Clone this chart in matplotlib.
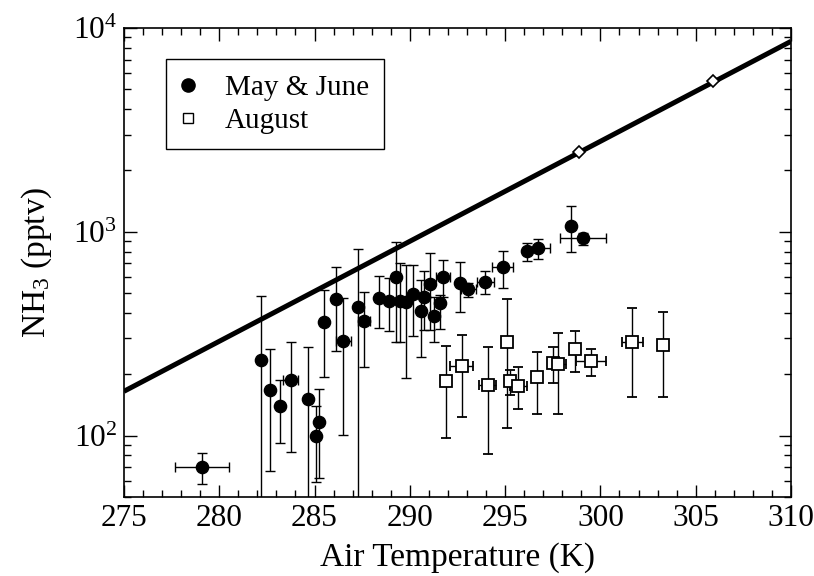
import matplotlib

matplotlib.use("Agg")
import matplotlib.pyplot as plt
import numpy as np
from matplotlib.lines import Line2D
from matplotlib.ticker import LogLocator, MultipleLocator, NullFormatter

plt.rcParams["font.family"] = ["Liberation Serif", "DejaVu Serif"]
plt.rcParams["mathtext.fontset"] = "custom"
plt.rcParams["mathtext.rm"] = "Liberation Serif"
plt.rcParams["mathtext.it"] = "Liberation Serif:italic"

# May & June observations: temperature (K), NH3 (pptv), error bounds, temperature spread
may_t = [279.1, 282.17, 282.66, 283.2, 283.75, 284.64, 285.06, 285.23, 285.5, 286.12,
         286.5, 287.3, 287.6, 288.38, 288.9, 289.27, 289.48, 289.8, 290.18, 290.58,
         290.76, 291.06, 291.28, 291.58, 291.75, 292.65, 293.07, 293.96, 294.87, 296.16,
         296.73, 298.45, 299.07]
may_nh3 = [70, 235, 167, 139, 188, 152, 100, 116, 362, 467,
           290, 429, 364, 472, 457, 602, 459, 451, 494, 410,
           481, 554, 385, 446, 602, 559, 522, 569, 669, 805,
           830, 1068, 929]
may_lo = [58, 30, 67, 92, 83, 30, 59, 62, 194, 260,
          101, 30, 218, 336, 326, 287, 287, 191, 308, 244,
          330, 330, 287, 332, 481, 405, 481, 495, 532, 721,
          733, 793, 861]
may_hi = [82, 486, 265, 188, 287, 273, 140, 169, 518, 670,
          475, 820, 507, 609, 591, 894, 705, 687, 687, 580,
          641, 784, 481, 490, 727, 708, 559, 644, 805, 878,
          922, 1343, 985]
may_terr = [1.4, 0, 0, 0, 0.4, 0, 0, 0, 0, 0,
            0.4, 0, 0.3, 0, 0, 0, 0, 0, 0, 0,
            0, 0, 0, 0, 0.38, 0, 0.4, 0.45, 0.54, 0,
            0.6, 0, 1.2]

# August observations
aug_t = [291.9, 292.72, 294.08, 295.08, 295.25, 295.69, 296.68, 297.49, 297.78, 298.66,
         299.49, 301.67, 303.26]
aug_nh3 = [186, 219, 177, 289, 185, 176, 193, 226, 224, 266,
           232, 289, 278]
aug_lo = [97, 124, 81, 109, 158, 135, 128, 181, 128, 205,
          197, 154, 154]
aug_hi = [275, 312, 273, 467, 211, 218, 258, 273, 318, 326,
          266, 421, 405]
aug_terr = [0, 0.62, 0.44, 0, 0, 0.44, 0, 0, 0.44, 0,
            0.78, 0.55, 0]

# reference curve and its two marked points
curve_t = [275, 310]
curve_nh3 = [165, 8600]
mark_t = [298.9, 305.9]
mark_nh3 = [2470, 5500]


def asym(vals, lo, hi):
    v = np.array(vals, dtype=float)
    return [v - np.array(lo), np.array(hi) - v]


fig = plt.figure(figsize=(8.14, 5.76), dpi=100)
ax = fig.add_axes([0.1523, 0.1372, 0.8194, 0.8142])

ax.plot(curve_t, curve_nh3, color="black", lw=3.6, solid_capstyle="butt", zorder=2)
ax.plot(mark_t, mark_nh3, ls="none", marker="D", ms=6.5, mfc="white", mec="black",
        mew=1.2, zorder=3)

ax.errorbar(may_t, may_nh3, yerr=asym(may_nh3, may_lo, may_hi), xerr=may_terr,
            fmt="o", ms=8.8, mfc="black", mec="black", ecolor="black",
            elinewidth=1.0, capsize=3.5, capthick=1.0, zorder=4)
ax.errorbar(aug_t, aug_nh3, yerr=asym(aug_nh3, aug_lo, aug_hi), xerr=aug_terr,
            fmt="s", ms=8.5, mfc="white", mec="black", mew=1.3, ecolor="black",
            elinewidth=1.0, capsize=3.5, capthick=1.0, zorder=4)

ax.set_yscale("log")
ax.set_xlim(275, 310)
ax.set_ylim(50, 1e4)
ax.xaxis.set_major_locator(MultipleLocator(5))
ax.xaxis.set_minor_locator(MultipleLocator(1))
ax.yaxis.set_major_locator(LogLocator(base=10))
ax.yaxis.set_minor_locator(LogLocator(base=10, subs=np.arange(2, 10)))
ax.yaxis.set_minor_formatter(NullFormatter())

ax.tick_params(which="both", direction="in", top=True, right=True, width=1.0,
               labelsize=22.5, pad=5)
ax.tick_params(which="major", length=9)
ax.tick_params(which="minor", length=5)
for s in ax.spines.values():
    s.set_linewidth(1.2)

ax.set_xlabel("Air Temperature (K)", fontsize=24, labelpad=7)
ax.set_ylabel("NH$_3$ (pptv)", fontsize=24, labelpad=14)

handles = [
    Line2D([], [], ls="none", marker="o", ms=9.5, mfc="black", mec="black"),
    Line2D([], [], ls="none", marker="s", ms=7, mfc="white", mec="black", mew=1.0),
]
leg = ax.legend(handles, ["May & June", "August"], loc="upper left",
                bbox_to_anchor=(0.0625, 0.933), borderaxespad=0, fontsize=21,
                frameon=True, fancybox=False, edgecolor="black", framealpha=1,
                handlelength=0.5, handletextpad=1.0, labelspacing=0.22,
                borderpad=0.52)
leg.get_frame().set_linewidth(1.0)

fig.savefig("out.png", dpi=100)
